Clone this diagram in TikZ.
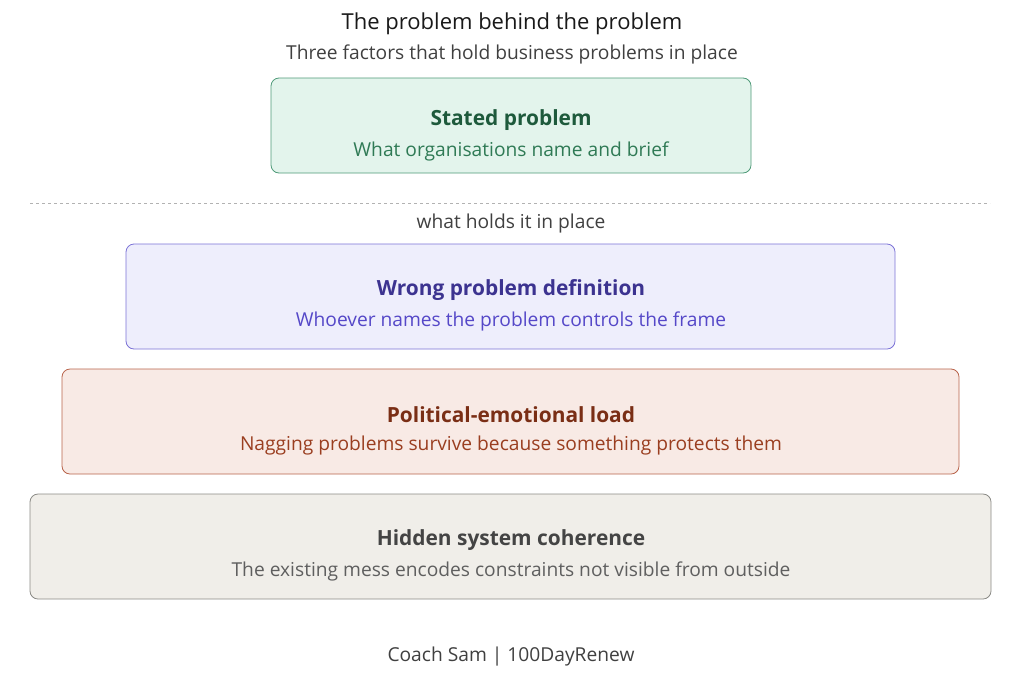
\documentclass[tikz,border=0pt]{standalone}
\usepackage{fontspec}
\setmainfont{Open Sans}
\begin{document}
\begin{tikzpicture}[x=1pt,y=-1pt,
  box/.style={draw,rounded corners=8pt,line width=0.8pt},
  ttl/.style={font=\fontsize{20.9}{24}\selectfont\bfseries},
  sub/.style={font=\fontsize{19.2}{22}\selectfont}]
\useasboundingbox (0,0) rectangle (1024,675);
\definecolor{gF}{HTML}{E3F4EC}\definecolor{gD}{HTML}{4E9A78}\definecolor{gT}{HTML}{1E5A3C}\definecolor{gS}{HTML}{2F7A55}
\definecolor{pF}{HTML}{EEEEFC}\definecolor{pD}{HTML}{7B72D6}\definecolor{pT}{HTML}{3C3390}\definecolor{pS}{HTML}{5548C8}
\definecolor{rF}{HTML}{F8EAE5}\definecolor{rD}{HTML}{B8634A}\definecolor{rT}{HTML}{7A2E15}\definecolor{rS}{HTML}{9A3E20}
\definecolor{nF}{HTML}{F0EEE9}\definecolor{nD}{HTML}{8A8A85}\definecolor{nT}{HTML}{444444}\definecolor{nS}{HTML}{5F5F5F}
\node[font=\fontsize{22}{25}\selectfont, text=black!90] (title) at (512,24) {The problem behind the problem};
\node[sub, text=black!75] (subtitle) at (512,54) {Three factors that hold business problems in place};
\draw[box,fill=gF,draw=gD] (271,78) rectangle (751,173);
\node[ttl,text=gT] (t1) at (511,120) {Stated problem};
\node[sub,text=gS] (s1) at (511,151) {What organisations name and brief};
\draw[dashed,gray!60,line width=0.7pt] (30,203) -- (990,203);
\node[sub,text=black!75] (hold) at (511,224) {what holds it in place};
\draw[box,fill=pF,draw=pD] (126,244) rectangle (895,349);
\node[ttl,text=pT] (t2) at (511,290) {Wrong problem definition};
\node[sub,text=pS] (s2) at (511,321) {Whoever names the problem controls the frame};
\draw[box,fill=rF,draw=rD] (62,369) rectangle (959,474);
\node[ttl,text=rT] (t3) at (511,415) {Political-emotional load};
\node[sub,text=rS] (s3) at (511,446) {Nagging problems survive because something protects them};
\draw[box,fill=nF,draw=nD] (30,494) rectangle (991,599);
\node[ttl,text=nT] (t4) at (511,540) {Hidden system coherence};
\node[sub,text=nS] (s4) at (511,571) {The existing mess encodes constraints not visible from outside};
\node[sub,text=black!75] (foot) at (511,657) {Coach Sam | 100DayRenew};
\end{tikzpicture}
\end{document}
